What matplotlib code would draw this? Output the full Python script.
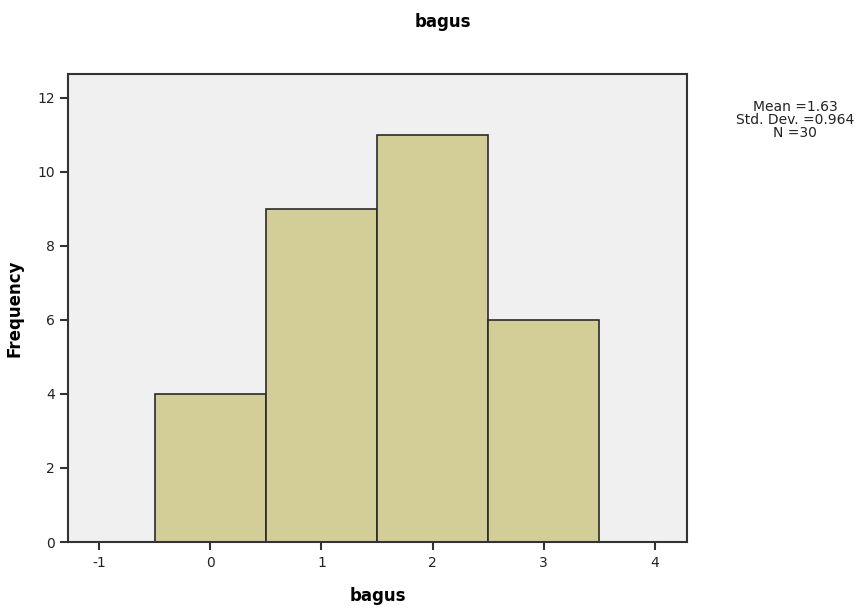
import matplotlib
matplotlib.use("Agg")
import matplotlib.pyplot as plt

plt.rcParams['font.family'] = ['DejaVu Sans']
plt.rcParams['axes.unicode_minus'] = False

categories = [0, 1, 2, 3]
frequencies = [4, 9, 11, 6]
x_ticks = [-1, 0, 1, 2, 3, 4]
y_ticks = [0, 2, 4, 6, 8, 10, 12]
title = "bagus"
stats_text = "Mean =1.63\nStd. Dev. =0.964\nN =30"

fig = plt.figure(figsize=(8.61, 6.08), dpi=100)
ax = fig.add_axes([68/861, 66/608, (687-68)/861, (542-74)/608])
ax.set_facecolor('#F0F0F0')
ax.bar(categories, frequencies, width=1.0, color='#D3CE98', edgecolor='#2a2a2a', linewidth=1.2, zorder=2)
ax.set_xlim(-1.28, 4.29)
ax.set_ylim(0, 12.64)
ax.set_xticks(x_ticks)
ax.set_yticks(y_ticks)
ax.tick_params(axis='both', labelsize=10, color='#333333', length=6, width=1.5, direction='out', labelcolor='#222222')
ax.tick_params(axis='x', pad=4)
for s in ax.spines.values():
    s.set_color('#333333')
    s.set_linewidth(1.5)
ax.set_xlabel(title, fontsize=12, fontweight='bold', labelpad=12)
ax.set_ylabel('Frequency', fontsize=12, fontweight='bold', labelpad=10)
fig.text(443/861, 1 - 22/608, title, ha='center', va='center', fontsize=12, fontweight='bold')
fig.text(795/861, 1 - 120/608, stats_text, ha='center', va='center', fontsize=10, linespacing=0.92, color='#222222')
fig.savefig('out.png', dpi=100)
